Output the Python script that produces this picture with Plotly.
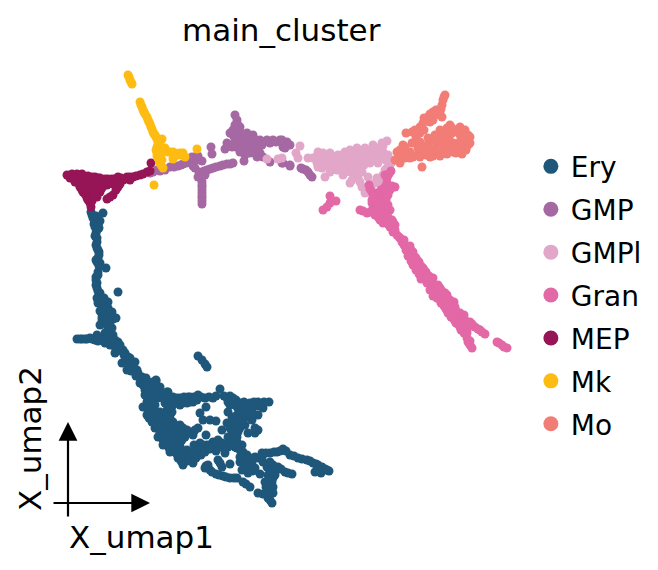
import plotly.graph_objects as go

# Embedding coordinates (horizontal, vertical)
ery = [(91,212),(103,213),(93,218),(100,221),(95,227),(99,228),(96,233),(97,242),(97,248),(99,252),(98,258),(96,260),(100,263),(106,268),(98,272),(96,280),(97,288),(100,293),(97,298),(118,292),(98,303),(105,303),(102,308),(108,308),(102,317),(108,315),(113,319),(107,325),(110,330),(105,333),(113,335),(97,335),(90,338),(85,339),(77,339),(82,339),(95,340),(100,338),(108,340),(118,342),(110,345),(115,347),(115,353),(120,348),(123,350),(125,353),(128,357),(122,363),(130,360),(132,363),(127,370),(135,370),(138,373),(142,377),(140,383),(156,380),(145,390),(160,387),(167,392),(153,388),(147,397),(173,397),(180,398),(188,397),
(198,356),(202,360),(205,364),(207,367),(130,358),(133,365),(143,380),(156,381),(150,385),(168,392),(137,370),(147,387),(145,395),(143,407),(147,415),(152,422),(155,428),(158,437),(163,445),(170,452),(178,458),(183,465),(193,463),(150,405),
(177,398),(190,397),(198,395),(205,398),(213,398),(220,389),(227,398),(233,398),(240,403),(250,403),(258,402),(269,402),(263,408),(258,415),(252,420),(245,425),(240,428),(237,437),(235,447),(242,445),(240,457),(247,455),(252,462),(245,465),(255,468),(248,473),(242,470),
(153,393),(163,397),(170,403),(167,410),(158,415),(163,417),(168,422),(162,425),(173,422),(180,425),(187,430),(173,430),(167,433),(178,437),(172,443),(185,437),(193,435),(198,428),(200,413),(206,407),(203,420),(210,420),(216,421),(206,435),(222,430),(227,423),(230,428),(233,422),(237,415),(243,413),(248,410),(230,405),(237,407),(180,405),(173,405),(187,403),(193,402),(187,450),(178,450),(195,453),(202,450),(183,457),(192,458),(200,443),(207,445),(213,442),(218,440),(220,447),(213,448),(225,453),(218,460),(222,467),(230,464),(208,465),(205,468),(212,472),(216,474),(223,476),(230,478),(237,478),(243,482),(250,487),(232,445),(237,448),(255,433),(248,433),(258,430),(255,428),
(255,457),(262,453),(270,453),(277,452),(283,449),(290,455),(298,458),(307,460),(313,463),(318,465),(325,469),(329,471),(315,472),(321,473),(270,462),(278,467),(285,472),(292,474),(273,470),(260,474),(267,467),(263,462),(268,475),(265,482),(273,478),(273,487),(273,493),(267,493),(258,493),(272,503),(268,498),(275,475),
(92,215),(96,216),(97,222),(98,225),(94,224),(97,230),(95,236),(97,238),(96,245),(98,250),(99,255),(97,262),(99,266),(98,275),(96,277),(97,283),(96,285),(98,291),(99,295),(98,300),(101,300),(103,306),(106,311),(100,311),(104,314),(102,320),(107,319),(110,322),(108,328),(112,328),(106,337),(111,338),(115,340),(80,339),(87,339),(92,339),(98,341),(103,340),(105,343),(113,342),(118,345),(120,345),(117,351),(124,355),(126,361),(129,365),(133,368),(131,371),(136,376),(140,378),(143,385),(148,382),(146,378),(153,382),(150,390),(155,392),(148,391),(160,393),(158,398),(153,400),(147,402),(150,410),(155,405),(165,403),
(170,398),(184,397),(194,397),(201,397),(209,397),(216,396),(224,396),(230,396),(236,400),(244,402),(254,402),(264,402),(176,403),(183,403),(190,402),(197,400),(228,402),(233,402),(238,405),(244,407),(253,407),(258,406),(248,415),
(148,410),(154,412),(160,412),(165,414),(172,412),(240,410),(245,417),(252,412),(240,420),(236,425),(232,417),(243,420),(228,412),
(149,418),(153,418),(157,420),(160,422),(165,420),(170,418),(172,427),(176,426),(183,428),(190,432),(195,430),(165,428),(158,427),(160,433),(165,437),(170,437),(174,435),(180,432),(182,440),(176,441),(168,443),(163,440),(169,448),(174,447),(180,446),(194,445),(198,447),(203,445),(185,453),(190,452),(176,453),(181,461),(187,461),(180,455),(196,458),(201,455),(205,452),(210,445),(216,444),(222,443),(228,447),(216,451),(210,449),
(235,430),(232,433),(238,432),(228,437),(233,440),(230,443),(237,442),(240,450),(243,452),(245,458),(250,458),(240,462),(245,461),(250,466),(247,468),(253,471),(258,458),(262,457),(266,453),(274,452),(280,451),(286,451),(294,456),(302,459),(310,461),(316,464),(322,467),(327,470),(318,470),(273,465),(281,469),(288,473),(275,472),(270,480),(266,487),(272,482),(272,490),(263,494),(270,500),(210,470),(219,475),(226,477),(234,478),(246,484),(220,463),(206,466),
(104,298),(108,302),(109,312),(112,312),(100,325),(116,318),(135,362)]

gmp = [(150,173),(157,170),(165,170),(170,167),(178,166),(183,164),(188,160),(195,157),(202,161),(195,168),(211,147),(212,154),(198,177),(202,182),(202,187),(202,193),(202,198),(202,204),(207,170),(213,168),(220,166),(227,164),(233,163),(205,175),(192,160),
(235,115),(237,120),(238,125),(233,130),(233,135),(240,132),(247,133),(253,135),(260,140),(267,140),(273,140),(280,140),(287,142),(290,145),(283,147),(227,143),(225,149),(232,147),(238,143),(245,142),(252,143),(243,150),(245,155),(244,161),(250,153),(257,157),(258,150),(263,157),(270,162),(282,163),(290,165),(253,138),(240,138),(247,147),(235,140),
(282,140),(287,143),(285,148),(283,163),(290,166),(303,169),(308,172),(312,177),
(236,128),(240,127),(235,125),(230,133),(236,135),(243,135),(243,140),(249,138),(256,140),(248,143),(255,147),(262,145),(240,145),(229,146),(236,147),(242,146),(247,152),(250,148),(254,152),(260,153),(240,152),(264,142),(270,143),(276,142),(283,143),(286,146),
(153,172),(160,171),(174,167),(181,165),(186,163),(192,157),(197,160),(199,172),(201,178),(203,176),(204,171),(210,169),(216,167),(223,165),(230,164),(202,185),(202,190),(202,196),(202,201),(193,166),(198,156),(301,168),(306,170),(310,175)]

gmpl = [(300,146),(296,153),(298,158),(282,158),(308,158),(313,158),(318,152),(323,153),(330,153),(335,157),(317,163),(322,168),(325,177),(320,162),(327,163),(337,170),(343,175),(350,183),(345,152),(350,150),(357,148),(365,148),(373,145),(382,143),(387,141),(343,158),(352,158),(360,158),(368,157),(377,153),(383,152),(388,155),(340,165),(348,168),(357,168),(355,177),(362,187),(365,193),(368,177),(377,178),(383,175),(387,168),(370,163),(378,163),(330,167),(360,163),(348,163),(357,153),(367,152),(392,162),(267,159),(278,159),(383,191),
(338,155),(341,160),(346,155),(350,155),(354,152),(354,162),(345,172),(351,172),(353,165),(356,172),(358,178),(360,182),(352,180),(360,155),(363,153),(364,160),(364,165),(371,150),(375,148),(379,148),(383,146),(372,156),(380,157),(384,158),(374,160),(386,160),(362,172),(375,183),(379,183),(372,185),(385,170),(390,165),(382,178),(316,157),(320,157),(325,158),(318,167),(332,160),(337,163),(330,172),(335,165),(345,165),(341,170),(329,157),(342,155)]

gran = [(391,171),(387,178),(387,183),(369,185),(372,192),(395,187),(390,190),(377,193),(383,197),(375,200),(382,203),(388,205),(360,210),(367,213),(373,208),(372,203),(390,210),(387,213),(380,220),(385,220),(392,220),(395,225),(390,227),(397,235),(402,242),(407,248),(380,213),
(330,196),(336,201),(330,203),(323,210),(327,207),
(407,250),(412,258),(417,265),(422,272),(425,278),(432,287),(438,293),(443,300),(448,307),(453,313),(458,320),(463,327),(467,330),(433,278),(440,288),(445,293),(450,300),(455,307),(460,313),(465,320),(475,327),(485,334),(467,338),(470,345),(497,342),(502,345),(507,348),(418,268),(428,282),(435,293),(447,310),(453,318),(460,327),(470,322),(480,330),
(400,238),(404,245),(409,253),(411,250),(414,262),(416,258),(419,262),(420,270),(423,268),(426,272),(427,283),(429,276),(431,280),(434,285),(430,290),(433,296),(436,288),(437,298),(440,295),(441,303),(443,293),(446,297),(444,306),(447,303),(448,313),(450,306),(451,317),(452,310),(454,302),(456,323),(457,312),(458,316),(460,322),(462,318),(464,315),(461,330),(466,325),(468,327),(472,324),(478,329),(482,332),(464,333),(468,342),(472,348),(470,341),(499,343),(504,347),(393,232),(399,237),(404,240),
(378,200),(380,205),(376,207),(384,208),(386,200),(380,210),(376,212),(383,215),(388,217),(378,196),(381,190),(385,192),(388,195),(385,187),(392,186),(370,212),(363,211),(375,215),(378,217),(383,223),(388,224),(393,222),(395,230),(370,189),(373,196),(385,175),(389,174),(372,200),(377,205),
(404,244),(410,246),(406,250),(413,252),(408,256),(415,257),(411,261),(418,261),(413,265),(421,266),(416,270),(424,270),(419,274),(424,276),(421,279),(428,276),(435,285),(438,285),(439,291),(436,296),(442,291),(440,300),(447,295),(449,301),(443,304),(452,304),(446,309),(455,309),(449,313),(458,313),(452,317),(461,317),(455,321),(464,320),(458,324),(466,323),(461,327),(468,326),(464,329),(467,333)]

mep = [(67,175),(72,174),(77,174),(82,174),(70,178),(75,182),(80,187),(83,192),(87,198),(90,203),(91,207),(85,177),(92,177),(98,178),(105,179),(112,179),(118,177),(127,177),(133,177),(140,175),(147,172),(151,163),(87,185),(93,185),(100,185),(107,185),(93,192),(100,192),(90,197),(118,187),(113,195),(107,199),(110,197),(123,180),(130,180),(97,197),(88,192),(82,182),(93,181),(77,178),(83,180),(115,183),(103,182),
(69,176),(75,176),(80,176),(88,176),(95,177),(100,178),(108,179),(115,179),(121,178),(125,179),(130,177),(136,176),(143,174),(150,171),(74,179),(78,181),(85,183),(90,183),(96,183),(101,182),(109,183),(113,184),(117,182),(79,184),(83,186),(91,187),(96,188),(102,188),(82,190),(85,194),(91,193),(96,193),(88,200),(92,201),(116,190),(90,190),(94,196),(120,184)]

mk = [(128,75),(130,80),(132,84),(140,102),(142,107),(144,112),(147,117),(149,122),(151,127),(153,132),(156,137),(158,142),(162,139),(157,147),(157,153),(158,158),(160,163),(163,168),(165,148),(168,152),(173,152),(177,154),(183,153),(185,157),(173,159),(197,149),(154,185),
(129,77),(131,82),(141,105),(143,110),(145,114),(148,120),(150,124),(152,129),(154,134),(155,135),(157,139),(159,140),(158,145),(156,150),(157,156),(159,160),(161,165),(162,160),(161,155),(161,147),(170,152),(175,153),(180,153),(175,156),(180,155)]

mo = [(445,95),(443,100),(442,105),(433,112),(428,117),(427,120),(435,115),(442,117),(420,127),(423,123),(406,133),(412,132),(420,133),(450,125),(460,127),(465,130),(470,137),(440,130),(435,135),(428,138),(420,142),(412,143),(403,145),(397,152),(395,160),(400,163),(410,158),(417,155),(423,152),(430,148),(437,143),(443,138),(453,143),(462,142),(468,145),(462,154),(453,152),(445,150),(438,152),(430,157),(422,167),(405,152),(447,133),(457,130),(443,145),(433,152),(450,145),(460,148),(427,145),(418,148),(410,152),
(433,120),(430,122),(438,110),(441,109),(444,97),(424,130),(416,137),(405,147),(400,150),(400,157),(405,158),(413,157),(420,157),(426,155),(433,156),(440,156),(447,154),(456,153),(464,150),(470,143),(468,135),(465,138),(460,135),(458,143),(455,148),(452,133),(449,138),(445,140),(440,138),(437,137),(432,140),(428,148),(424,147),(436,148),(441,148),(452,128),(458,132),(447,128),(466,150),(415,130),
(436,110),(440,112),(430,114),(424,118)]

clusters = ["Ery", "GMP", "GMPl", "Gran", "MEP", "Mk", "Mo"]
values = [ery, gmp, gmpl, gran, mep, mk, mo]
colors = ["#1f577b", "#a568a3", "#e1a6c8", "#e368a6", "#951556", "#febb12", "#f27d76"]

FONT = "DejaVu Sans"
fig = go.Figure()
for name, pts, col in zip(clusters, values, colors):
    fig.add_trace(go.Scatter(
        x=[p[0] for p in pts], y=[p[1] for p in pts], mode="markers", name=name,
        legendgroup=name, showlegend=False,
        marker=dict(size=9, color=col, line=dict(width=0)), hoverinfo="skip"))
    fig.add_trace(go.Scatter(
        x=[None], y=[None], mode="markers", name=name, legendgroup=name,
        marker=dict(size=15, color=col, line=dict(width=0))))

def arrow(x0, y0, x1, y1):
    fig.add_annotation(x=x1, y=y1, ax=x0, ay=y0, xref="x", yref="y", axref="x", ayref="y",
                       text="", showarrow=True, arrowhead=2, arrowsize=1.7, arrowwidth=2.2,
                       arrowcolor="black")

arrow(52, 503, 150, 503)
arrow(68, 518, 68, 422)
fig.add_annotation(x=141, y=537, xref="x", yref="y", text="X_umap1", showarrow=False,
                   font=dict(family=FONT, size=31, color="black"))
fig.add_annotation(x=30, y=439, xref="x", yref="y", text="X_umap2", showarrow=False, textangle=-90,
                   font=dict(family=FONT, size=31, color="black"))
fig.add_annotation(x=281, y=30, xref="x", yref="y", text="main_cluster", showarrow=False,
                   font=dict(family=FONT, size=31, color="black"))

fig.update_layout(
    width=658, height=570, margin=dict(l=0, r=0, t=0, b=0),
    paper_bgcolor="white", plot_bgcolor="white",
    xaxis=dict(range=[0, 658], visible=False),
    yaxis=dict(range=[570, 0], visible=False),
    legend=dict(x=0.8068, y=0.7515, xanchor="left", yanchor="top", tracegroupgap=3.5,
                itemsizing="trace", font=dict(family=FONT, size=28, color="black"),
                bgcolor="rgba(0,0,0,0)"),
)
fig.write_html("out.html", post_script="document.body.style.margin='0';",
               config={"displayModeBar": False})
